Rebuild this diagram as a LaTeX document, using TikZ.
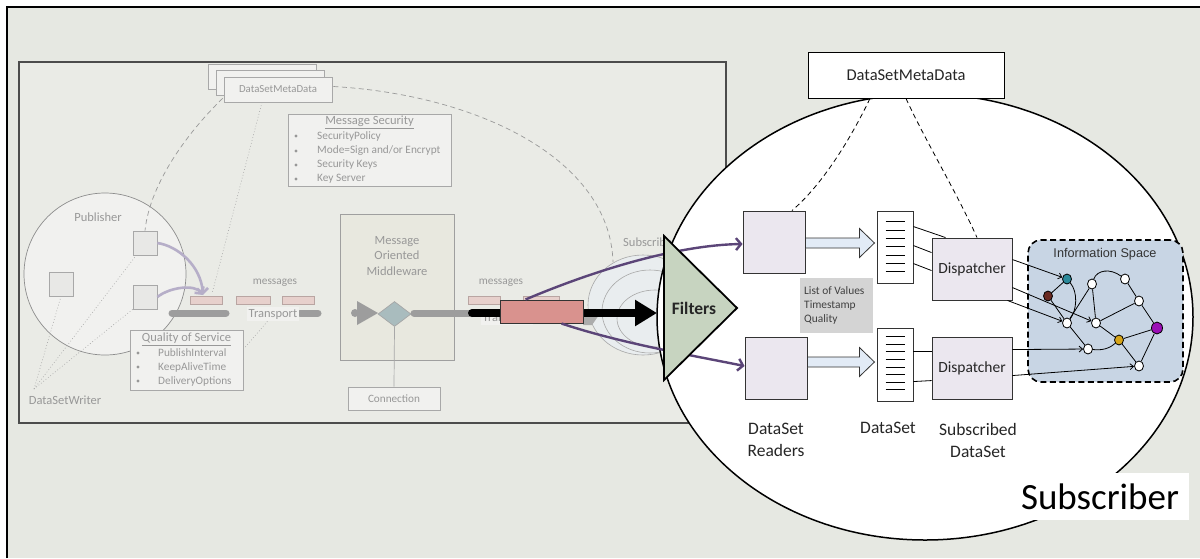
\documentclass[tikz,border=0pt]{standalone}
\usepackage{fontspec}
\setmainfont{Carlito}
\newfontfamily\arialf{Liberation Sans}
\usetikzlibrary{arrows.meta,shapes.geometric,calc}
\definecolor{bgc}{HTML}{E6E8E2}
\definecolor{panelc}{HTML}{EAEBE6}
\definecolor{fgr}{HTML}{A8A8A8}
\definecolor{ftc}{HTML}{989898}
\definecolor{fboxc}{HTML}{F1F1EF}
\definecolor{fpink}{HTML}{E7D0CC}
\definecolor{fpinkd}{HTML}{B9A5A2}
\definecolor{farrow}{HTML}{B6AEC8}
\definecolor{gbarc}{HTML}{9D9D9D}
\definecolor{momc}{HTML}{E8E8DF}
\definecolor{diac}{HTML}{A9BCBE}
\definecolor{subc}{HTML}{E9EDEF}
\definecolor{pinkc}{HTML}{D9928E}
\definecolor{purpc}{HTML}{5B4578}
\definecolor{filtc}{HTML}{C7D4C0}
\definecolor{rboxc}{HTML}{EBE7EF}
\definecolor{blkc}{HTML}{E2EBF6}
\definecolor{infoc}{HTML}{C8D5E4}
\definecolor{lstc}{HTML}{D4D4D4}
\definecolor{tealc}{HTML}{2B8A9B}
\definecolor{brownc}{HTML}{6A2A22}
\definecolor{goldc}{HTML}{D6A418}
\definecolor{violc}{HTML}{9B0FB5}
\begin{document}
\begin{tikzpicture}[x=1pt,y=-1pt,
  fbox/.style={draw=fgr, fill=fboxc, line width=0.7pt, inner sep=0pt},
  ftxt/.style={text=ftc, font=\fontsize{11.3}{14}\selectfont, inner sep=1pt},
  fttl/.style={text=ftc, font=\fontsize{12.5}{15}\selectfont, inner sep=1pt},
  fsq/.style={draw=fgr, fill=fboxc!92!gray, line width=0.7pt, minimum size=24pt, inner sep=0pt},
  fmsg/.style={draw=fpinkd, fill=fpink, line width=0.6pt, minimum height=8pt, inner sep=0pt},
  fdot/.style={draw=fgr, line width=0.6pt, dash pattern=on 0.8pt off 2.2pt},
  fdash/.style={draw=gray!80, line width=0.7pt, dash pattern=on 5pt off 3.5pt},
  farr/.style={draw=farrow, line width=2.6pt, -{Straight Barb[length=5pt,width=11pt]}},
  gbar/.style={draw=gbarc, line width=7pt, line cap=round},
  rbox/.style={draw=black!80, fill=rboxc, line width=0.9pt, inner sep=0pt},
  rtxt/.style={font=\fontsize{17.5}{22}\selectfont, text=black!85, inner sep=0pt},
  dtxt/.style={font=\fontsize{15.5}{18}\selectfont, text=black!85},
  purp/.style={draw=purpc, line width=2.4pt, -{Straight Barb[length=5pt,width=12pt]}},
  inode/.style={ellipse, draw=black, line width=0.8pt, fill=white, minimum width=9pt, minimum height=10pt, inner sep=0pt},
  iarr/.style={draw=black, line width=0.8pt, -{Straight Barb[length=3.5pt,width=6pt]}},
  iedge/.style={draw=black, line width=0.8pt},
  rdash/.style={draw=black, line width=0.8pt, dash pattern=on 5pt off 3.5pt}
]
\useasboundingbox (0,0) rectangle (1200,558);
\fill[white] (0,0) rectangle (1200,558);
\fill[bgc] (7,7) rectangle (1200,558);
\draw[line width=1.3pt] (7,558) -- (7,7) -- (1200,7);
% inner panel
\draw[draw=black!70, line width=1.2pt, fill=panelc] (19,62) rectangle (726,423);

% ---------- faded left diagram ----------
\node[fbox, minimum width=108pt, minimum height=25pt] (meta3) at (262,76.5) {};
\node[fbox, minimum width=108pt, minimum height=25pt] (meta2) at (270,82.5) {};
\node[fbox, minimum width=108pt, minimum height=25pt, text=ftc, font=\fontsize{10.8}{13}\selectfont] (meta1) at (278,89.5) {DataSetMetaData};

\node[fbox, minimum width=163pt, minimum height=72pt] (secbox) at (369.5,150) {};
\node[fttl] (sect) at (369.5,122) {\underline{Message Security}};
\node[ftxt, anchor=west] (sec1) at (316,136) {SecurityPolicy};
\node[ftxt, anchor=west] (sec2) at (316,151) {Mode=Sign and/or Encrypt};
\node[ftxt, anchor=west] (sec3) at (316,165) {Security Keys};
\node[ftxt, anchor=west] (sec4) at (316,179) {Key Server};
\foreach \yy in {136,151,165,179} \fill[ftc] (296,\yy) circle (1.6);

% publisher
\node[circle, draw=gray!90, fill=fboxc, line width=0.7pt, minimum size=162pt, inner sep=0pt] (pub) at (105,274) {};
\node[fttl] (pubt) at (98,217) {Publisher};
\node[fsq] (sq1) at (145,243) {};
\node[fsq] (sq2) at (145,297) {};
\node[fsq] (sq0) at (61,284) {};

% dashed curves from metadata
\draw[fdash] ($(meta1.south west)+(-1,-4)$) .. controls (190,130) and (150,182) .. (sq1.north);
\coordinate (subtop) at (613,262);
\draw[fdash] ($(meta1.east)+(1,-3)$) .. controls (480,95) and (610,160) .. (subtop);

% messages & transport
\node[fmsg, minimum width=32pt] (msg1) at (206,300) {};
\node[fmsg, minimum width=34pt] (msg2) at (253,300) {};
\node[fmsg, minimum width=32pt] (msg3) at (298,300) {};
\node[ftxt] (msgt1) at (275,283) {messages};
\draw[gbar] (172,313) -- (226,313);
\draw[gbar] (300,313) -- (318,313);
\node[ftxt, fill=fboxc, font=\fontsize{12.5}{15}\selectfont, inner sep=1.5pt] (tr1) at (273,314) {Transport};

% dotted lines
\coordinate (dswc) at (34,389);
\draw[fdot] (dswc) -- (sq0.south);
\draw[fdot] (dswc) -- (sq2.south west);
\draw[fdot] (dswc) -- ($(sq1.south west)+(2,2)$);
\draw[fdot] ($(meta1.south)+(-16,0)$) -- ($(msg1.north)+(6,-2)$);

% curved arrows
\coordinate (atip) at (203,295);
\draw[farr] (sq1.east) .. controls (178,246) and (201,266) .. (atip);
\draw[farr] (sq2.east) .. controls (170,287) and (195,284) .. (atip);

% quality of service
\node[fbox, minimum width=113pt, minimum height=60pt] (qos) at (186.5,360) {};
\node[fttl] (qost) at (186.5,339) {\underline{Quality of Service}};
\node[ftxt, anchor=west] (qos1) at (157,353) {PublishInterval};
\node[ftxt, anchor=west] (qos2) at (157,367) {KeepAliveTime};
\node[ftxt, anchor=west] (qos3) at (157,381) {DeliveryOptions};
\foreach \yy in {353,367,381} \fill[ftc] (138,\yy) circle (1.6);
\draw[fdot] ($(qos.east)+(2,-13)$) -- ($(tr1.south)+(-5,0)$);
\node[fttl] (dsw) at (65,400) {DataSetWriter};

% middleware
\node[draw=gray!75, fill=momc, line width=0.7pt, minimum width=114pt, minimum height=146pt] (mom) at (397,287) {};
\node[fttl, align=center, font=\fontsize{12.5}{15.5}\selectfont] (momt) at (397,256) {Message\\Oriented\\Middleware};
\fill[gbarc] (355,313) circle (4);
\fill[gbarc] (357,301) -- (378,313) -- (357,325) -- cycle;
\node[diamond, draw=gray!70, fill=diac, line width=0.7pt, aspect=1.3, minimum width=33pt, minimum height=25pt, inner sep=0pt] (dia) at (394.5,314) {};
\draw[gbar] (414,313) -- (470,313);
\node[fbox, minimum width=92pt, minimum height=23pt, text=ftc, font=\fontsize{11.2}{13}\selectfont] (conn) at (394,398.5) {Connection};
\draw[draw=fgr, line width=0.7pt] (conn.north) -- (dia.south);

% right messages
\node[ftxt] (msgt2) at (501,283) {messages};
\node[fmsg, minimum width=32pt] (msg4) at (484,300) {};
\node[fmsg, minimum width=36pt] (msg5) at (541,300) {};
\node[ftxt, fill=fboxc, font=\fontsize{12.5}{15}\selectfont, inner sep=1.5pt] (tr2) at (507,318) {Transport};

% faded subscriber
\node[fttl, anchor=west] (subt) at (622,242) {Subscriber};
\draw[draw=fgr, fill=subc, line width=0.6pt] (643,305) ellipse [x radius=55, y radius=50];
\draw[draw=fgr, fill=subc, line width=0.6pt] (650,311.5) ellipse [x radius=48, y radius=41.5];
\draw[draw=fgr, fill=subc, line width=0.6pt] (655,318.5) ellipse [x radius=38, y radius=28.5];

% ---------- subscriber ellipse ----------
\node[ellipse, draw=black, fill=white, line width=1.5pt, minimum width=536pt, minimum height=446pt, inner sep=0pt] (subell) at (925,317) {};

% pink rect, black arrow
\fill[gray!65] (583,315) -- (599,315) -- (592,325) -- (583,325) -- cycle;
\coordinate (barend) at (657,313);
\draw[draw=black, line width=8pt, -{Triangle[length=22pt,width=25pt]}] (472,313) -- (barend);
\fill[black] (472,313) circle (4);
\node[draw=black!80, fill=pinkc, line width=1pt, minimum width=83pt, minimum height=23pt, inner sep=0pt] (pk) at (541.5,311.5) {};

% readers
\node[rbox, minimum width=62pt, minimum height=62pt] (rd1) at (774,242) {};
\node[rbox, minimum width=62pt, minimum height=62pt] (rd2) at (776,368) {};

\draw[purp] ($(pk.north west)+(26,0)$) .. controls (600,268) and (680,245) .. ($(rd1.west)+(0,2)$);
\draw[purp] ($(pk.south west)+(62,0)$) .. controls (620,343) and (690,355) .. ($(rd2.west)+(0,-2)$);

% filters
\draw[fill=filtc, line width=1.8pt, line join=miter] (664,236) -- (737,308) -- (664,380) -- cycle;
\node[font=\fontsize{17.5}{20}\selectfont\bfseries, text=black!85] (filt) at (694,308) {Filters};

% block arrows
\draw[draw=black!80, fill=blkc, line width=0.8pt] ($(rd1.east)+(0,-4)$) -- ++(54,0) -- ++(0,-9.5) -- ++(15,14.5) -- ++(-15,14.5) -- ++(0,-9.5) -- ($(rd1.east)+(0,6)$) -- cycle;
\draw[draw=black!80, fill=blkc, line width=0.8pt] ($(rd2.east)+(0,-11)$) -- ++(52,0) -- ++(0,-9.5) -- ++(15,14.5) -- ++(-15,14.5) -- ++(0,-9.5) -- ($(rd2.east)+(0,-1)$) -- cycle;

% datasets (documents)
\node[draw=black!80, fill=white, line width=0.9pt, minimum width=36pt, minimum height=72pt, inner sep=0pt] (doc1) at (895,247) {};
\node[draw=black!80, fill=white, line width=0.9pt, minimum width=36pt, minimum height=73pt, inner sep=0pt] (doc2) at (895,364.5) {};
\foreach \yy in {11,19.5,28,36,44.5,53,61} \draw[line width=0.8pt] ($(doc1.north)+(-9.5,\yy)$) -- ++(19,0);
\foreach \yy in {9,16.6,24.2,31.8,39.4,47,54.6,62} \draw[line width=0.8pt] ($(doc2.north)+(-9.5,\yy)$) -- ++(19,0);

% dispatchers
\node[rbox, minimum width=80pt, minimum height=62pt, dtxt] (disp1) at (972,269) {Dispatcher};
\node[rbox, minimum width=80pt, minimum height=62pt, dtxt] (disp2) at (972,368) {Dispatcher};
\draw[line width=0.8pt] ($(doc1.north east)+(0,16)$) -- ($(disp1.north west)+(14,0)$);
\draw[line width=0.8pt] ($(doc1.north east)+(0,35)$) -- ($(disp1.north west)+(0,15)$);
\draw[line width=0.8pt] ($(doc1.north east)+(0,53)$) -- ($(disp1.north west)+(0,33)$);
\draw[line width=0.8pt] ($(doc2.north east)+(0,24)$) -- ($(disp2.north west)+(0,15)$);
\draw[line width=0.8pt] ($(doc2.north east)+(0,54)$) -- ($(disp2.north west)+(0,44)$);

% list box
\node[fill=lstc, minimum width=73pt, minimum height=55pt, inner sep=0pt] (lst) at (836.5,305.5) {};
\node[anchor=west, align=left, font=\fontsize{11.4}{14}\selectfont, text=black!75, inner sep=0pt] (lstt) at (804,305) {List of Values\\Timestamp\\Quality};

% labels
\node[rtxt, align=center, font=\fontsize{17.5}{22}\selectfont] (lrd) at (776,440) {DataSet\\Readers};
\node[rtxt] (lds) at (888,428) {DataSet};
\node[rtxt, align=center, font=\fontsize{17.5}{22}\selectfont] (lsd) at (978,440) {Subscribed\\DataSet};

% information space
\node[draw=black, fill=infoc, line width=1.6pt, dash pattern=on 6pt off 3.5pt, rounded corners=13pt, minimum width=155pt, minimum height=142pt, inner sep=0pt] (info) at (1105.5,311) {};
\node[font=\arialf\fontsize{12.7}{15}\selectfont, text=black!80] (infot) at (1105,254) {Information Space};
\node[inode, fill=tealc] (nT) at (1067,279) {};
\node[inode, fill=brownc] (nB) at (1048,296) {};
\node[inode] (na) at (1092,284) {};
\node[inode] (nb) at (1125,279) {};
\node[inode] (nc) at (1139,301) {};
\node[inode] (nd) at (1067,323) {};
\node[inode] (ne) at (1096,323) {};
\node[inode] (nf) at (1088,349) {};
\node[inode, fill=goldc] (nG) at (1119,340) {};
\node[inode, fill=violc, minimum width=11pt, minimum height=12pt] (nP) at (1157,328) {};
\node[inode] (ng) at (1139,366) {};
\draw[iedge] (nB) -- (nT);
\draw[iedge] (nT) .. controls (1078,292) and (1077,310) .. (nd);
\draw[iedge] (nB) -- (nd);
\draw[iedge] (nd) -- (na);
\draw[iedge] (na) .. controls (1097,270) and (1110,268) .. (nb);
\draw[iedge] (na) -- (ne);
\draw[iedge] (nb) -- (nc);
\draw[iedge] (ne) -- (nc);
\draw[iedge] (ne) -- (nG);
\draw[iedge] (nG) -- (nP);
\draw[iedge] (nc) -- (nP);
\draw[iedge] (nd) -- (nf);
\draw[iedge] (nf) .. controls (1106,351) and (1112,346) .. (nG);
\draw[iedge] (nG) -- (ng);
\draw[iedge] (nP) -- (ng);
\draw[iarr] ($(disp1.north east)+(0,22)$) -- (nT);
\draw[iarr] ($(disp1.north east)+(0,50)$) -- (ne);
\draw[iarr] ($(disp1.south east)+(-5,0)$) -- (nd);
\draw[iarr] ($(disp2.north east)+(0,13)$) -- (nf);
\draw[iarr] ($(disp2.north east)+(0,39)$) -- (ng);

% metadata box
\node[draw=black, fill=white, line width=1pt, minimum width=196pt, minimum height=46pt, font=\fontsize{16.5}{19}\selectfont, text=black!85] (mbox) at (906,75) {DataSetMetaData};
\draw[rdash] ($(mbox.south)+(-36,0)$) .. controls (850,140) and (822,185) .. ($(rd1.north)+(18,0)$);
\draw[rdash] (mbox.south) .. controls (925,140) and (958,195) .. ($(disp1.north)+(5,0)$);

% subscriber label
\node[fill=white, minimum width=178pt, minimum height=47pt, font=\fontsize{37}{40}\selectfont, text=black] (sublbl) at (1100,496.5) {Subscriber};
\end{tikzpicture}
\end{document}
